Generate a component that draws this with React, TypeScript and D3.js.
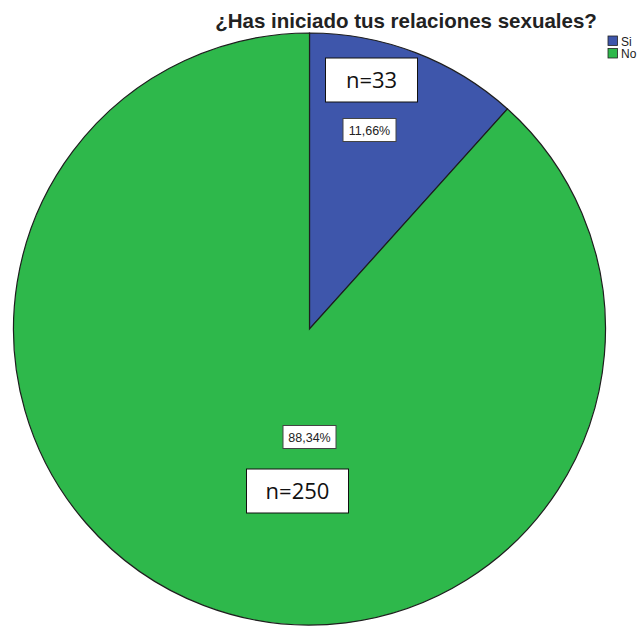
import React from 'react';
import * as d3 from 'd3';

const title = '¿Has iniciado tus relaciones sexuales?';
const categories = ['Si', 'No'];
const counts = [33, 250];
const percentLabels = ['11,66%', '88,34%'];
const countLabels = ['n=33', 'n=250'];
const colors = ['#3e56ab', '#2eb84b'];

// label placement relative to pie centre (as the original has them)
const pctOffsets = [[60, -199], [0, 108]];
const nOffsets = [[62, -249], [-12, 162]];

const W = 643;
const H = 628;

const App: React.FC = () => {
  const cx = 309.5;
  const cy = 329;
  const r = 296;

  const pie = d3.pie<number>().sort(null).value(d => d)(counts);
  const arc = d3.arc<d3.PieArcDatum<number>>().innerRadius(0).outerRadius(r);

  return (
    <div style={{ position: 'absolute', left: 0, top: 0, width: W, height: H, overflow: 'hidden' }}>
      <svg width={W} height={H} style={{ display: 'block', fontFamily: 'Liberation Sans, Arial, sans-serif' }}>
        <rect width={W} height={H} fill="#ffffff" />
        <text x={406} y={28} textAnchor="middle" fontSize={20.5} fontWeight="bold" fill="#222">
          {title}
        </text>
        <g transform={`translate(${cx},${cy})`}>
          {pie.map((p, i) => (
            <path key={i} d={arc(p) || ''} fill={colors[i]} stroke="#1e1e1e" strokeWidth={1.2} />
          ))}
          {pie.map((p, i) => (
            <g key={'p' + i} transform={`translate(${pctOffsets[i][0]},${pctOffsets[i][1]})`}>
              <rect x={-26.5} y={-11.5} width={53} height={23} fill="#fff" stroke="#444" strokeWidth={1} />
              <text y={4.5} textAnchor="middle" fontSize={12.5} fill="#222">{percentLabels[i]}</text>
            </g>
          ))}
          {pie.map((p, i) => (
            <g key={'n' + i} transform={`translate(${nOffsets[i][0]},${nOffsets[i][1]})`}>
              <rect x={i === 0 ? -46 : -51} y={-22} width={i === 0 ? 92 : 102} height={44} fill="#fff" stroke="#111" strokeWidth={1} />
              <text y={8} textAnchor="middle" fontSize={22} fontFamily="Open Sans, Liberation Sans, sans-serif" fill="#111">{countLabels[i]}</text>
            </g>
          ))}
        </g>
        <g transform="translate(608,36)">
          {categories.map((c, i) => (
            <g key={c} transform={`translate(0,${i * 12.5})`}>
              <rect width={9.5} height={9.5} fill={colors[i]} stroke="#222" strokeWidth={0.8} />
              <text x={13} y={9.5} fontSize={12} fill="#222">{c}</text>
            </g>
          ))}
        </g>
      </svg>
    </div>
  );
};

export default App;
